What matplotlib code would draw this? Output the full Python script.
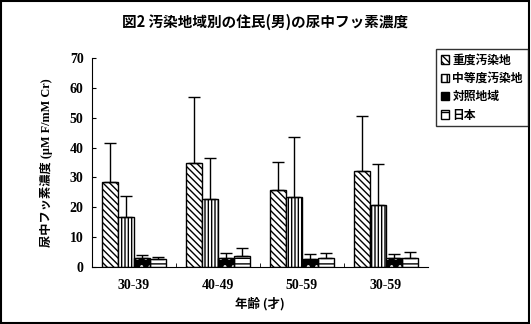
import matplotlib
matplotlib.use("Agg")
import matplotlib.pyplot as plt
import numpy as np
from matplotlib.patches import Rectangle, Patch

categories = ["30-39", "40-49", "50-59", "30-59"]
series_names = ["重度汚染地", "中等度汚染地", "対照地域", "日本"]
means = {
    "重度汚染地": [28.4, 34.7, 25.8, 32.1],
    "中等度汚染地": [16.7, 22.8, 23.3, 20.6],
    "対照地域": [2.9, 2.9, 2.6, 2.9],
    "日本": [2.7, 3.7, 2.9, 2.9],
}
upper = {
    "重度汚染地": [41.4, 56.9, 35.1, 50.6],
    "中等度汚染地": [23.7, 36.4, 43.4, 34.4],
    "対照地域": [3.9, 4.6, 4.4, 4.3],
    "日本": [3.2, 6.3, 4.6, 4.9],
}
yticks = [0, 10, 20, 30, 40, 50, 60, 70]
title = "図2 汚染地域別の住民(男)の尿中フッ素濃度"
ylabel = "尿中フッ素濃度 (μM F/mM Cr)"
xlabel = "年齢 (才)"

plt.rcParams["hatch.linewidth"] = 1.0
CJK = ["Noto Sans CJK JP", "DejaVu Sans"]
SERIF = ["Liberation Serif", "Noto Sans CJK JP"]

fig = plt.figure(figsize=(5.31, 3.24), dpi=100)
ax = fig.add_axes([0.173, 0.176, 0.633, 0.645])

x = np.arange(len(categories))
w = 0.19
offsets = [-1.5 * w, -0.5 * w, 0.5 * w, 1.5 * w]
hatches = ["\\\\\\\\\\", "|||||", "..", "---"]
for i, name in enumerate(series_names):
    vals = np.array(means[name])
    err = np.array(upper[name]) - vals
    pos = x + offsets[i]
    if i == 2:
        ax.bar(pos, vals, w, color="black", edgecolor="white", hatch=hatches[i],
               linewidth=0, zorder=2)
        ax.bar(pos, vals, w, fill=False, edgecolor="black", linewidth=1, zorder=3)
    else:
        ax.bar(pos, vals, w, facecolor="white", edgecolor="black",
               hatch=hatches[i], linewidth=1, zorder=2)
    ax.errorbar(pos, vals, yerr=[np.zeros_like(err), err], fmt="none",
                ecolor="black", elinewidth=1, capsize=4, capthick=1, zorder=4)

ax.set_xlim(-0.5, len(categories) - 0.5)
ax.set_ylim(0, 70)
ax.set_yticks(yticks)
ax.set_yticklabels([str(t) for t in yticks], family=SERIF, fontweight="bold", fontsize=10)
ax.set_xticks(x)
ax.set_xticklabels(categories, family=SERIF, fontweight="bold", fontsize=10)
ax.tick_params(axis="x", length=0, pad=9)
ax.set_xticks(x[:-1] + 0.5, minor=True)
ax.tick_params(axis="x", which="minor", direction="in", length=3)
ax.tick_params(axis="y", direction="in", length=3, pad=6)
ax.spines["top"].set_visible(False)
ax.spines["right"].set_visible(False)

ax.set_ylabel(ylabel, family=SERIF, fontweight="bold", fontsize=8.8, labelpad=12)
ax.set_xlabel(xlabel, family=CJK, fontweight="bold", fontsize=9, labelpad=3)
fig.text(0.5, 0.932, title, family=CJK, fontweight="bold", fontsize=10.5, ha="center", va="center")

handles = [
    Patch(facecolor="white", edgecolor="black", hatch=hatches[0]),
    Patch(facecolor="white", edgecolor="black", hatch="|||"),
    Patch(facecolor="black", edgecolor="black"),
    Patch(facecolor="white", edgecolor="black", hatch="--"),
]
leg = fig.legend(handles, series_names, loc="upper left", bbox_to_anchor=(0.821, 0.849),
                 prop={"family": CJK, "weight": "bold", "size": 8.5},
                 frameon=True, fancybox=False, edgecolor="black",
                 handlelength=0.7, handleheight=0.7, handletextpad=0.3,
                 labelspacing=0.45, borderpad=0.4, borderaxespad=0)
leg.get_frame().set_linewidth(1)

fig.patches.append(Rectangle((0.002, 0.004), 0.994, 0.992, transform=fig.transFigure,
                             fill=False, edgecolor="black", linewidth=1.5))

fig.savefig("out.png", dpi=100)
